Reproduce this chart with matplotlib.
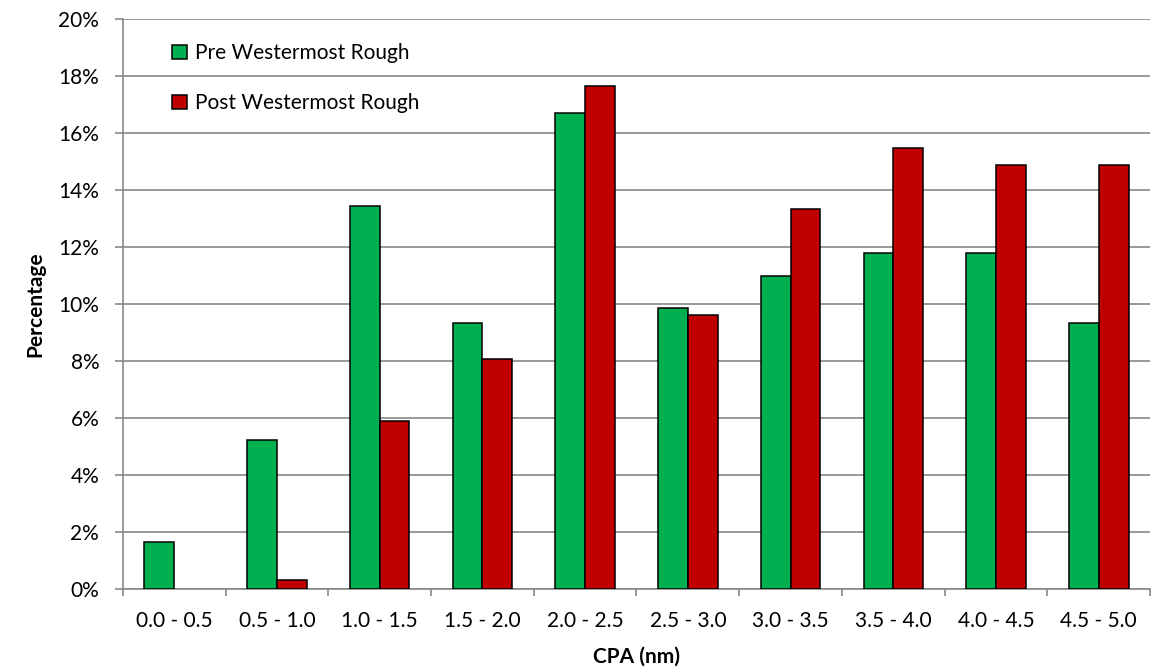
import matplotlib.pyplot as plt
import numpy as np
from matplotlib.patches import Patch
from matplotlib.ticker import PercentFormatter

plt.rcParams['font.family'] = ['Lato', 'DejaVu Sans']

categories = ['0.0 - 0.5', '0.5 - 1.0', '1.0 - 1.5', '1.5 - 2.0', '2.0 - 2.5',
              '2.5 - 3.0', '3.0 - 3.5', '3.5 - 4.0', '4.0 - 4.5', '4.5 - 5.0']
pre_values = [1.64, 5.21, 13.42, 9.32, 16.71, 9.86, 10.96, 11.78, 11.78, 9.32]
post_values = [0.0, 0.31, 5.88, 8.05, 17.65, 9.60, 13.31, 15.48, 14.86, 14.86]
series_names = ['Pre Westermost Rough', 'Post Westermost Rough']

green = '#00B050'
red = '#C00000'
grid_col = '#878787'
fs = 15

fig = plt.figure(figsize=(11.7, 6.7), dpi=100)
ax = fig.add_axes([0.105, 0.121, 0.878, 0.851])

x = np.arange(len(categories))
w = 0.29
bars_pre = ax.bar(x - w / 2, pre_values, w, color=green, edgecolor='black', linewidth=1.1, zorder=3)
bars_post = ax.bar(x + w / 2, post_values, w, color=red, edgecolor='black', linewidth=1.1, zorder=3)
# empty bins draw nothing
for b in list(bars_pre) + list(bars_post):
    if b.get_height() == 0:
        b.set_visible(False)

ax.set_xlim(-0.5, len(categories) - 0.5)
ax.set_ylim(0, 20)
ax.set_yticks(np.arange(0, 21, 2))
ax.yaxis.set_major_formatter(PercentFormatter(decimals=0))
ax.set_xticks(x)
ax.set_xticklabels(categories)
ax.set_xticks(np.arange(-0.5, len(categories), 1), minor=True)
ax.tick_params(axis='x', which='major', length=0, labelsize=fs, pad=16)
ax.tick_params(axis='x', which='minor', length=5, color=grid_col, width=1.2, direction='out')
ax.tick_params(axis='y', length=6, color=grid_col, width=1.2, labelsize=fs, pad=11)

ax.grid(axis='y', color=grid_col, linewidth=1.2, zorder=0)
for side in ['top', 'right']:
    ax.spines[side].set_visible(False)
for side in ['left', 'bottom']:
    ax.spines[side].set_color(grid_col)
    ax.spines[side].set_linewidth(1.2)

ax.set_xlabel('CPA (nm)', fontsize=fs, fontweight='bold', labelpad=11)
ax.set_ylabel('Percentage', fontsize=fs, fontweight='bold', labelpad=9)

handles = [Patch(facecolor=green, edgecolor='black', linewidth=1.1),
           Patch(facecolor=red, edgecolor='black', linewidth=1.1)]
ax.legend(handles, series_names, loc='upper left', bbox_to_anchor=(0.03, 0.99), frameon=False,
          fontsize=fs, handlelength=0.7, handleheight=0.7, handletextpad=0.4,
          labelspacing=1.45)

fig.savefig('out.png', dpi=100)
